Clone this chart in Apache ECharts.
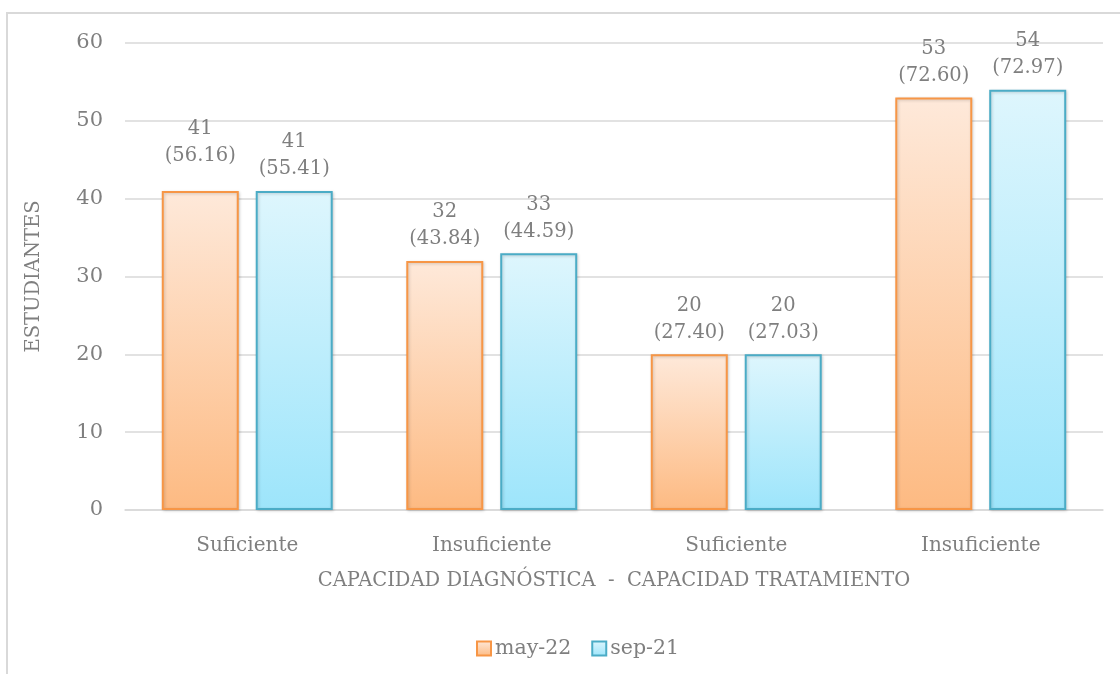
<!DOCTYPE html>
<html>
<head>
<meta charset="utf-8">
<script src="https://cdn.jsdelivr.net/npm/echarts@6/dist/echarts.min.js"></script>
<style>html,body{margin:0;padding:0;background:#fff}#c{width:1120px;height:674px}</style>
</head>
<body>
<div id="c"></div>
<script>
const categories = ['Suficiente', 'Insuficiente', 'Suficiente', 'Insuficiente'];
const seriesNames = ['may-22', 'sep-21'];
const may22 = [41, 32, 20, 53];
const sep21 = [41, 33, 20, 54];
const may22Pct = ['56.16', '43.84', '27.40', '72.60'];
const sep21Pct = ['55.41', '44.59', '27.03', '72.97'];
const yTicks = [0, 10, 20, 30, 40, 50, 60];

const FONT = 'DejaVu Serif';
const GREY = '#7f7f7f';

function grad(top, bottom) {
  return new echarts.graphic.LinearGradient(0, 0, 0, 1, [
    {offset: 0, color: top}, {offset: 1, color: bottom}
  ]);
}

function makeData(vals, pcts, raise) {
  return vals.map((v, i) => {
    const d = {value: v, pct: pcts[i]};
    if (raise && raise[i]) d.label = {offset: [0, -raise[i]]};
    return d;
  });
}

const labelCfg = {
  show: true, position: 'top', distance: 8,
  fontFamily: FONT, fontSize: 19.5, color: GREY, lineHeight: 27,
  formatter: p => p.value + '\n(' + p.data.pct + ')'
};

const chart = echarts.init(document.getElementById('c'));
chart.setOption({
  animation: false,
  graphic: [{
    type: 'rect', shape: {x: 7, y: 13, width: 1300, height: 900},
    style: {fill: 'none', stroke: '#d9d9d9', lineWidth: 2}, silent: true
  }],
  grid: {left: 125, right: 17, top: 43, bottom: 164},
  legend: {
    top: 633, left: 471, icon: 'rect', itemWidth: 14, itemHeight: 14, itemGap: 20,
    textStyle: {fontFamily: FONT, fontSize: 20.5, color: GREY, padding: [0, 0, 0, -1]},
    data: seriesNames
  },
  xAxis: {
    type: 'category', data: categories,
    axisLine: {lineStyle: {color: '#d9d9d9', width: 1.5}},
    axisTick: {show: false},
    axisLabel: {fontFamily: FONT, fontSize: 20, color: GREY, margin: 26},
    name: 'CAPACIDAD DIAGNÓSTICA  -  CAPACIDAD TRATAMIENTO',
    nameLocation: 'middle', nameGap: 61,
    nameTextStyle: {fontFamily: FONT, fontSize: 19.5, color: GREY}
  },
  yAxis: {
    type: 'value', min: 0, max: 60, interval: 10,
    axisLine: {show: false}, axisTick: {show: false},
    splitLine: {lineStyle: {color: '#d9d9d9', width: 1.5}},
    axisLabel: {fontFamily: FONT, fontSize: 21, color: GREY, margin: 22},
    name: 'ESTUDIANTES', nameLocation: 'middle', nameGap: 81, nameRotate: 90,
    nameTextStyle: {fontFamily: FONT, fontSize: 19.5, color: GREY}
  },
  series: [{
    name: seriesNames[0], type: 'bar', barWidth: 77, barGap: '22%',
    data: makeData(may22, may22Pct, [13, 0, 0, 0]),
    itemStyle: {color: grad('#fee9da', '#fdba82'), borderColor: '#f79646', borderWidth: 2,
      shadowColor: 'rgba(0,0,0,0.18)', shadowBlur: 3, shadowOffsetX: 1, shadowOffsetY: 1},
    label: labelCfg
  }, {
    name: seriesNames[1], type: 'bar', barWidth: 77, barGap: '22%',
    data: makeData(sep21, sep21Pct),
    itemStyle: {color: grad('#def6fd', '#9de5fb'), borderColor: '#4bacc6', borderWidth: 2,
      shadowColor: 'rgba(0,0,0,0.18)', shadowBlur: 3, shadowOffsetX: 1, shadowOffsetY: 1},
    label: labelCfg
  }]
});
</script>
</body>
</html>
